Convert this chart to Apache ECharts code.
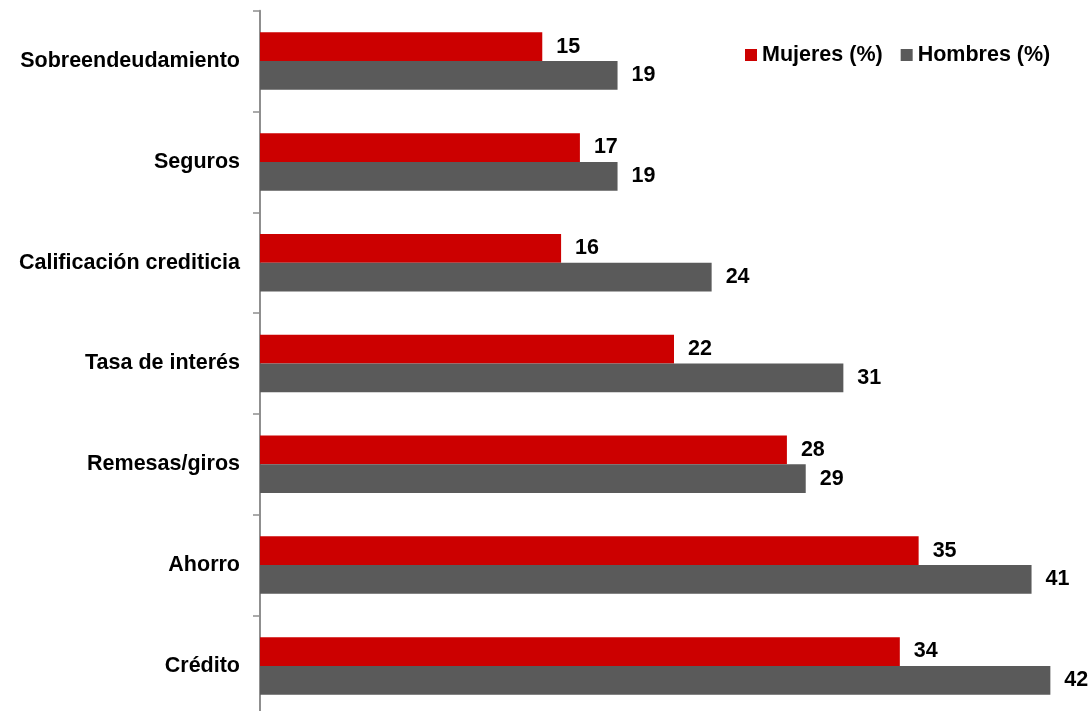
<!DOCTYPE html>
<html>
<head>
<meta charset="utf-8">
<script src="https://cdn.jsdelivr.net/npm/echarts@6/dist/echarts.min.js"></script>
<style>
  html, body { margin: 0; padding: 0; background: #ffffff; overflow: hidden; }
  #chart { width: 1092px; height: 720px; }
</style>
</head>
<body>
<div id="chart"></div>
<script>
const categories = ['Sobreendeudamiento', 'Seguros', 'Calificación crediticia', 'Tasa de interés', 'Remesas/giros', 'Ahorro', 'Crédito'];
const mujeres = [15, 17, 16, 22, 28, 35, 34];
const hombres = [19, 19, 24, 31, 29, 41, 42];
const seriesNames = ['Mujeres (%)', 'Hombres (%)'];

const FONT = "'Liberation Sans', Arial, sans-serif";
const FS = 21.5;
const chart = echarts.init(document.getElementById('chart'));
const labelStyle = {
  show: true,
  position: 'right',
  distance: 14,
  color: '#000',
  fontFamily: FONT,
  fontWeight: 'bold',
  fontSize: FS
};
chart.setOption({
  animation: false,
  backgroundColor: '#ffffff',
  legend: {
    left: 740,
    top: 39,
    icon: 'rect',
    itemWidth: 12,
    itemHeight: 12,
    itemGap: 18,
    textStyle: { color: '#000', fontFamily: FONT, fontWeight: 'bold', fontSize: FS },
    data: seriesNames
  },
  grid: { left: 260, width: 828, top: 10.7, height: 705.6, containLabel: false },
  xAxis: {
    type: 'value',
    min: 0,
    max: 44,
    show: false,
    splitLine: { show: false }
  },
  yAxis: {
    type: 'category',
    inverse: true,
    data: categories,
    axisLine: { show: true, lineStyle: { color: '#8f8f8f', width: 2 } },
    axisTick: { show: true, inside: false, length: 7, alignWithLabel: false, lineStyle: { color: '#8f8f8f', width: 1.5 } },
    axisLabel: { margin: 20, color: '#000', fontFamily: FONT, fontWeight: 'bold', fontSize: FS }
  },
  series: [
    {
      name: seriesNames[0],
      type: 'bar',
      data: mujeres,
      itemStyle: { color: '#cc0000' },
      barGap: '0%',
      barCategoryGap: '43%',
      label: labelStyle
    },
    {
      name: seriesNames[1],
      type: 'bar',
      data: hombres,
      itemStyle: { color: '#5a5a5a' },
      barGap: '0%',
      barCategoryGap: '43%',
      label: labelStyle
    }
  ]
});
</script>
</body>
</html>
